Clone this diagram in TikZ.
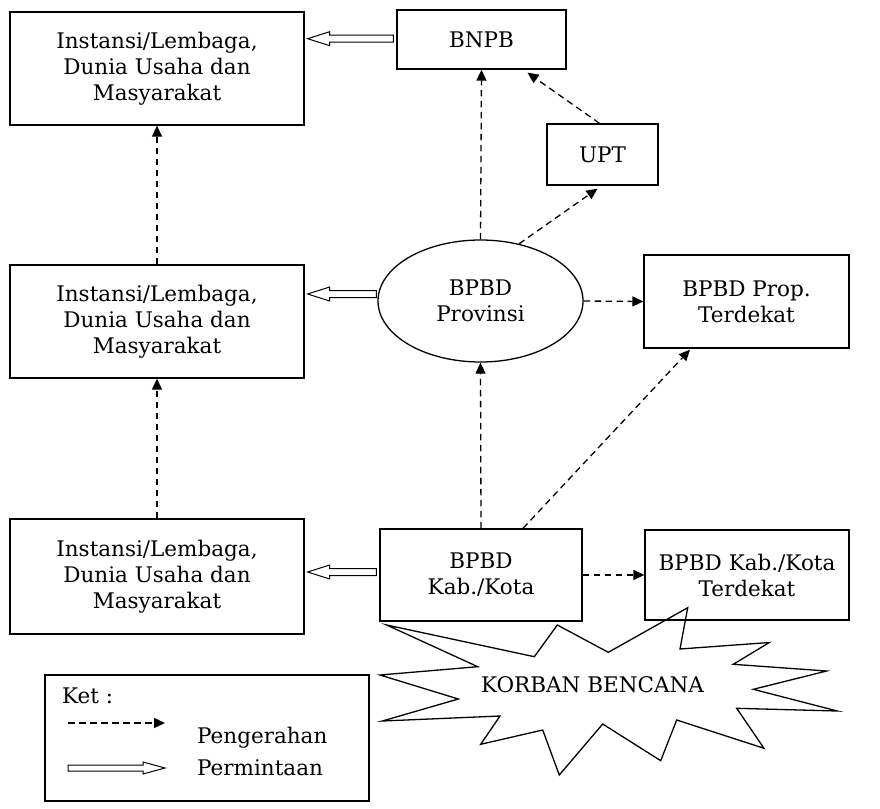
\documentclass[tikz,border=0pt]{standalone}
\usepackage{fontspec}
\setmainfont{DejaVu Serif}
\usetikzlibrary{arrows.meta,calc,shapes.geometric}
\newcommand\hollowarrow[3][7]{%
  \draw[line width=1pt,fill=white] let \p1=(#2), \p2=(#3), \n1={22pt*sign(\x1-\x2)}, \n2={#1*1pt}, \n3={#1*0.5pt} in
    (\x1,\y1+\n3) -- (\x2+\n1,\y1+\n3) -- (\x2+\n1,\y1+\n2) -- (\x2,\y1)
    -- (\x2+\n1,\y1-\n2) -- (\x2+\n1,\y1-\n3) -- (\x1,\y1-\n3) -- cycle;}
\begin{document}
\begin{tikzpicture}[x=1pt,y=-1pt,
  lbl/.style={font=\fontsize{21.5}{26}\selectfont, align=center, inner sep=0pt},
  box/.style={lbl, draw, line width=1.3pt, rectangle},
  darr/.style={line width=1.3pt, dash pattern=on 6.5pt off 4.5pt, -{Triangle[length=11pt,width=10pt]}}]
\useasboundingbox (0,0) rectangle (880,808);
% nodes
\node[box, minimum width=294pt, minimum height=113pt] (tl) at (157,68.5) {Instansi/Lembaga,\\Dunia Usaha dan\\Masyarakat};
\node[box, minimum width=294pt, minimum height=113pt] (ml) at (157,321.5) {Instansi/Lembaga,\\Dunia Usaha dan\\Masyarakat};
\node[box, minimum width=294pt, minimum height=115pt] (bl) at (157,576.5) {Instansi/Lembaga,\\Dunia Usaha dan\\Masyarakat};
\node[box, minimum width=169pt, minimum height=59pt] (bnpb) at (481.5,39.5) {BNPB};
\node[box, minimum width=111pt, minimum height=61pt] (upt) at (602.5,154.5) {UPT};
\node[lbl, draw, line width=1.3pt, ellipse, inner sep=0pt, minimum width=205pt, minimum height=122pt] (prov) at (480.5,301) {BPBD\\Provinsi};
\node[box, minimum width=205pt, minimum height=93pt] (propt) at (746.5,301.5) {BPBD Prop.\\Terdekat};
\node[box, minimum width=202pt, minimum height=92pt] (kab) at (481,575) {BPBD\\Kab./Kota};
\node[box, minimum width=204pt, minimum height=90pt] (kabt) at (747,575) {BPBD Kab./Kota\\Terdekat};
% starburst
\draw[line width=1.3pt] (386.7,625) -- (534.3,656.7) -- (557.3,625) -- (608.3,652.3) -- (687.7,607.7)
  -- (680,649) -- (769.3,642.5) -- (733.3,664.3) -- (826.7,671) -- (753.3,689.3) -- (837.3,711)
  -- (736.7,708.3) -- (764,748.3) -- (676.7,720) -- (660.7,760.7) -- (602.7,724) -- (559.3,775)
  -- (542.7,730) -- (480.7,744.3) -- (500,716) -- (382.3,721) -- (458.3,699) -- (380,675)
  -- (477.7,666.7) -- cycle;
\node[lbl] (korban) at (592.5,684.5) {KORBAN BENCANA};
% dashed connectors
\draw[darr] (ml.north) -- (tl.south);
\draw[darr] (bl.north) -- (ml.south);
\draw[darr] (prov.north) -- (bnpb.south);
\draw[darr] (kab.north) -- (prov.south);
\draw[darr] (prov.56) -- ([xshift=-5pt,yshift=-3pt]upt.south);
\draw[darr] ([xshift=-3pt]upt.north) -- ([xshift=46pt,yshift=-3pt]bnpb.south);
\draw[darr] (prov.east) -- (propt.west);
\draw[darr] ([xshift=42pt]kab.north) -- ([xshift=-56.5pt,yshift=-1pt]propt.south);
\draw[darr] (kab.east) -- (kabt.west);
% hollow arrows (Permintaan)
\coordinate (h1) at ([xshift=-3pt,yshift=0.8pt]bnpb.west);
\coordinate (h1t) at ($(tl.east |- h1)+(3,0)$);
\hollowarrow{h1}{h1t}
\coordinate (h2) at ($(prov.west)+(-1,-7)$);
\coordinate (h2t) at ($(ml.east |- h2)+(3,0)$);
\hollowarrow{h2}{h2t}
\coordinate (h3) at ($(kab.west)+(-3,-3)$);
\coordinate (h3t) at ($(bl.east |- h3)+(3,0)$);
\hollowarrow{h3}{h3t}
% legend
\node[draw, line width=1.3pt, minimum width=324pt, minimum height=126pt, inner sep=0pt] (legend) at (207,738) {};
\node[lbl, anchor=base west] (ket) at (62,703) {Ket :};
\coordinate (la) at (68,723);
\coordinate (lb) at (165,723);
\draw[darr] (la) -- (lb);
\node[lbl, anchor=base west] (peng) at (197,743) {Pengerahan};
\coordinate (lc) at (68,768);
\coordinate (ld) at (165,768);
\hollowarrow[6]{lc}{ld}
\node[lbl, anchor=base west] (perm) at (197,775) {Permintaan};
\end{tikzpicture}
\end{document}
